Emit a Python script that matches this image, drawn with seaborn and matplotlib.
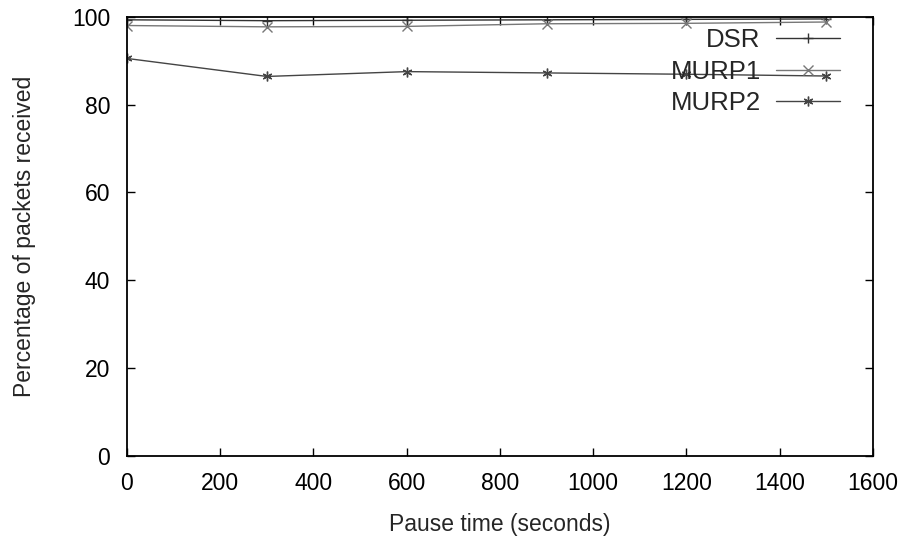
import matplotlib
matplotlib.use("Agg")
import matplotlib.pyplot as plt
import seaborn as sns
import pandas as pd

pause = [0, 300, 600, 900, 1200, 1500]
dsr = [99.3, 99.1, 99.2, 99.3, 99.4, 99.5]
murp1 = [98.0, 97.7, 97.8, 98.4, 98.5, 98.8]
murp2 = [90.5, 86.4, 87.5, 87.2, 86.9, 86.5]
series_names = ["DSR", "MURP1", "MURP2"]
xticks = [0, 200, 400, 600, 800, 1000, 1200, 1400, 1600]
yticks = [0, 20, 40, 60, 80, 100]

df = pd.DataFrame({
    "pause": pause * 3,
    "value": dsr + murp1 + murp2,
    "series": sum([[n] * len(pause) for n in series_names], []),
})

sns.set_theme(style="ticks")
plt.rcParams["font.family"] = ["Liberation Sans", "DejaVu Sans"]

fig = plt.figure(figsize=(9.07, 5.4), dpi=100)
ax = fig.add_axes([0.14, 0.156, 0.8225, 0.813])

styles = {
    "DSR": dict(color="#333333", marker="+"),
    "MURP1": dict(color="#777777", marker="x"),
    "MURP2": dict(color="#444444", marker=(6, 2, 0)),
}
for name in series_names:
    sub = df[df["series"] == name]
    sns.lineplot(data=sub, x="pause", y="value", ax=ax, label=name,
                 color=styles[name]["color"], marker=styles[name]["marker"],
                 markersize=7, markeredgewidth=1.0, linewidth=1.0,
                 markeredgecolor=styles[name]["color"])

ax.set_xlim(0, 1600)
ax.set_ylim(0, 100)
ax.set_xticks(xticks)
ax.set_yticks(yticks)
ax.tick_params(direction="in", length=6, width=1, top=True, right=True,
               labelsize=16.5, colors="black", pad=12)
for s in ax.spines.values():
    s.set_linewidth(1.3)
    s.set_color("black")
ax.set_xlabel("Pause time (seconds)", fontsize=16.5, labelpad=13)
ax.set_ylabel("Percentage of packets received", fontsize=16.5, labelpad=26)

leg = ax.legend(loc="upper right", bbox_to_anchor=(0.97, 0.998), frameon=False,
                markerfirst=False, fontsize=18.5, handlelength=2.5,
                labelspacing=0.3, borderaxespad=0.0, handletextpad=0.6)
for t in leg.get_texts():
    t.set_ha("right")

fig.savefig("out.png", dpi=100)
